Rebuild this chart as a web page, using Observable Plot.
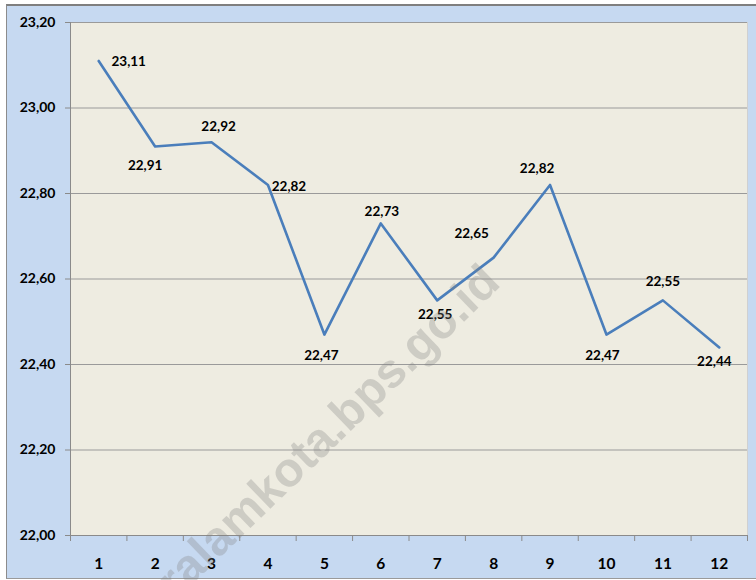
<!DOCTYPE html>
<html>
<head>
<meta charset="utf-8">
<script src="https://cdn.jsdelivr.net/npm/d3@7"></script>
<script src="https://cdn.jsdelivr.net/npm/@observablehq/plot@0.6"></script>
<style>
  html, body { margin: 0; padding: 0; background: #ffffff; }
  #wrap { position: relative; width: 756px; height: 580px; overflow: hidden; }
  #bg { position: absolute; left: 6px; top: 4px; width: 770px; height: 572px;
        background: #c6d9f1; border-top: 2px solid #7f7f7f; border-left: 1px solid #8c8c8c;
        border-bottom: 1px solid #9a9a9a; }
  #chart { position: absolute; left: 0; top: 0; }
</style>
</head>
<body>
<div id="wrap"><div id="bg"></div><div id="chart"></div></div>
<script>
const months = [1, 2, 3, 4, 5, 6, 7, 8, 9, 10, 11, 12];
const values = [23.11, 22.91, 22.92, 22.82, 22.47, 22.73, 22.55, 22.65, 22.82, 22.47, 22.55, 22.44];
const yTicks = [22.0, 22.2, 22.4, 22.6, 22.8, 23.0, 23.2];
// label placement offsets (px) relative to each point
const labelDx = [30, -10, 7, 21, -3, 1, -2, -22, -13, -4, 0, -5];
const labelDy = [1, 19, -16, 2, 21, -12, 14, -24, -16, 21, -19, 14];
const watermark = "pagaralamkota.bps.go.id";

const fmt = v => d3.format(".2f")(v).replace(".", ",");
const data = months.map((m, i) => ({ m, v: values[i] }));
const boundaries = [months[0] - 0.5, ...months.map(m => m + 0.5)];

const labelMarks = data.map((d, i) =>
  Plot.text([d], {
    x: "m", y: "v", text: d => fmt(d.v),
    dx: labelDx[i], dy: labelDy[i],
    fontSize: 13.5, fontWeight: "bold", fill: "#000"
  })
);

const chart = Plot.plot({
  width: 756,
  height: 580,
  marginLeft: 70,
  marginRight: 9,
  marginTop: 22,
  marginBottom: 45,
  style: { background: "transparent", fontFamily: "Lato, sans-serif", overflow: "visible" },
  x: { type: "linear", domain: [0.5, 12.5] },
  y: { domain: [22, 23.2] },
  marks: [
    Plot.frame({ fill: "#eeece1", stroke: "#d0d0d0" }),
    Plot.gridY(yTicks.slice(1), { stroke: "#9a9a9a", strokeOpacity: 1, strokeWidth: 1 }),
    Plot.ruleX([0.5], { stroke: "#8a8a8a" }),
    Plot.ruleY([22], { stroke: "#8a8a8a" }),
    Plot.axisY({
      ticks: yTicks, tickSize: 5, tickPadding: 10, tickFormat: fmt,
      fontSize: 14, fontWeight: "bold", fill: "#000", stroke: "#8a8a8a", label: null
    }),
    Plot.axisX({ ticks: boundaries, tickSize: 6, tickFormat: () => "", stroke: "#8a8a8a", label: null }),
    Plot.axisX({
      ticks: months, tickSize: 0, tickPadding: 22, tickFormat: d => String(d),
      fontSize: 15.5, fontWeight: "bold", fill: "#000", label: null
    }),
    Plot.line(data, { x: "m", y: "v", stroke: "#4a7ebb", strokeWidth: 2.6 }),
    ...labelMarks
  ]
});

d3.select(chart).append("text")
  .attr("transform", "translate(502,285) rotate(-44)")
  .attr("text-anchor", "end")
  .attr("font-family", "Liberation Sans, Arial, sans-serif")
  .attr("font-weight", "bold")
  .attr("font-size", 48)
  .attr("fill", "#808080")
  .attr("fill-opacity", 0.3)
  .text(watermark);

document.getElementById("chart").appendChild(chart);
</script>
</body>
</html>
